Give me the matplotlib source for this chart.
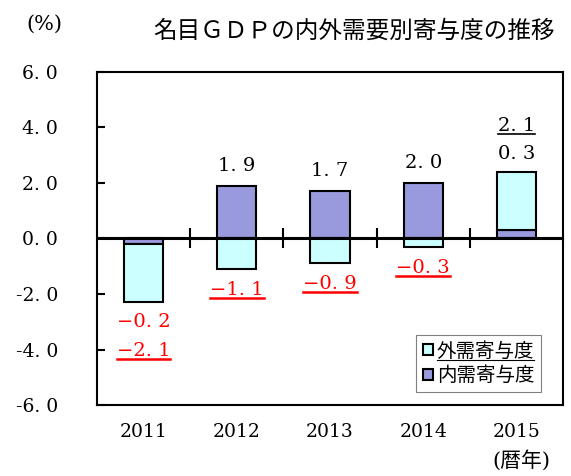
import matplotlib
matplotlib.use("Agg")
import matplotlib.pyplot as plt
from matplotlib.lines import Line2D
import numpy as np

# 名目GDPの内外需要別寄与度
years = ["2011", "2012", "2013", "2014", "2015"]
naiju = [-0.2, 1.9, 1.7, 2.0, 0.3]     # 内需寄与度
gaiju = [-2.1, -1.1, -0.9, -0.3, 2.1]  # 外需寄与度
yticks = [-6.0, -4.0, -2.0, 0.0, 2.0, 4.0, 6.0]

plt.rcParams["font.family"] = ["DejaVu Serif", "Noto Sans CJK JP"]

c_nai = "#9999dd"
c_gai = "#ccffff"

fig = plt.figure(figsize=(5.71, 4.76), dpi=100)
ax = fig.add_axes([0.170, 0.149, 0.816, 0.700])

x = np.arange(len(years))
w = 0.42
# 外需は内需と同じ符号なら内需の先に積み上げ、違えば0から
g_bottom = [n if n * g > 0 else 0 for n, g in zip(naiju, gaiju)]
b_nai = ax.bar(x, naiju, w, color=c_nai, edgecolor="black", linewidth=1.5,
               label="内需寄与度", zorder=3)
b_gai = ax.bar(x, gaiju, w, bottom=g_bottom, color=c_gai, edgecolor="black",
               linewidth=1.5, label="外需寄与度", zorder=3)

ax.set_xlim(-0.5, len(years) - 0.5)
ax.set_ylim(-6, 6)
ax.set_yticks(yticks)
ax.set_yticklabels(["{:.1f}".format(v).replace(".", ". ") for v in yticks])
ax.tick_params(axis="y", direction="in", length=6, width=1.5, pad=28,
               labelsize=13.5)
ax.set_xticks(x)
ax.set_xticklabels(years)
ax.tick_params(axis="x", length=0, pad=13, labelsize=13.5)
for s in ax.spines.values():
    s.set_linewidth(1.5)

# ゼロ線と区切りの目盛り
ax.axhline(0, color="black", linewidth=2.2, zorder=4)
sec = ax.secondary_xaxis(0.5)
sec.set_xticks(x[:-1] + 0.5)
sec.set_xticklabels([])
sec.spines["bottom"].set_visible(False)
sec.tick_params(direction="inout", length=14, width=1.5)

# データラベル
fs = 14
under = []
for i in range(len(years)):
    top = max(0, naiju[i], g_bottom[i] + gaiju[i])
    bot = min(0, naiju[i], g_bottom[i] + gaiju[i])
    lab_n = "{:.1f}".format(naiju[i]).replace(".", ". ").replace("-", "−")
    lab_g = "{:.1f}".format(gaiju[i]).replace(".", ". ").replace("-", "−")
    if gaiju[i] < 0:
        col = "red"
        if naiju[i] < 0:
            ax.text(x[i], bot - 0.72, lab_n, color=col, ha="center", va="center", fontsize=fs)
            t = ax.text(x[i], bot - 1.77, lab_g, color=col, ha="center", va="center", fontsize=fs)
        else:
            ax.text(x[i], top + 0.72, lab_n, color="black", ha="center", va="center", fontsize=fs)
            t = ax.text(x[i], bot - 0.75, lab_g, color=col, ha="center", va="center", fontsize=fs)
        under.append((t, col, 1.8))
    else:
        ax.text(x[i], top + 0.65, lab_n, color="black", ha="center", va="center", fontsize=fs)
        t = ax.text(x[i], top + 1.64, lab_g, color="black", ha="center", va="center", fontsize=fs)
        under.append((t, "black", 1.2))

leg = ax.legend(handles=[b_gai, b_nai], loc="lower right",
                bbox_to_anchor=(0.953, 0.039), borderaxespad=0, fontsize=14,
                handlelength=0.5, handleheight=0.5, handletextpad=0.2,
                fancybox=False, edgecolor="gray", framealpha=1,
                borderpad=0.35, labelspacing=0.3)
leg.get_frame().set_linewidth(0.8)
under.append((leg.get_texts()[0], "black", 0.8))

fig.text(0.62, 0.935, "名目ＧＤＰの内外需要別寄与度の推移", ha="center", va="center",
         fontsize=17)
fig.text(0.078, 0.948, "(%)", ha="center", va="center", fontsize=15)
fig.text(0.913, 0.032, "(暦年)", ha="center", va="center", fontsize=15)

# 下線
fig.canvas.draw()
r = fig.canvas.get_renderer()
inv = fig.transFigure.inverted()
for t, col, lw in under:
    bb = t.get_window_extent(r)
    (x0, y0), (x1, _) = inv.transform([(bb.x0, bb.y0 + 1), (bb.x1, bb.y0)])
    fig.add_artist(Line2D([x0, x1], [y0, y0], color=col, linewidth=lw,
                          transform=fig.transFigure))

fig.savefig("out.png", dpi=100)
